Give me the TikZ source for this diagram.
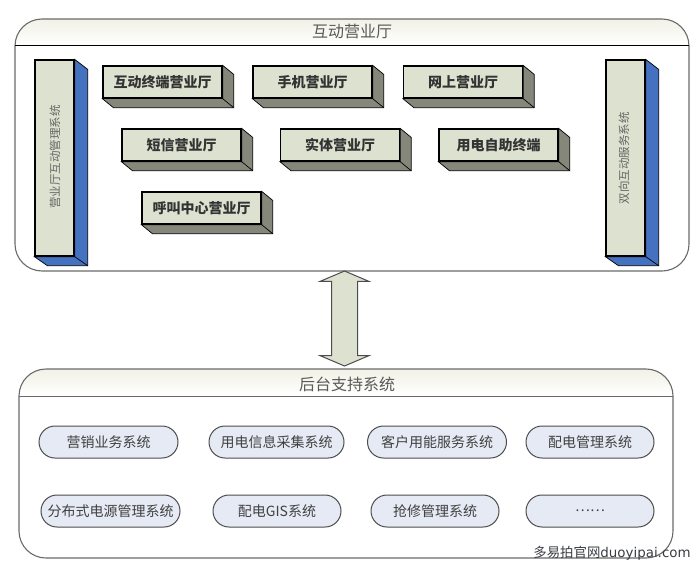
\documentclass[tikz,border=0pt]{standalone}
\usepackage{fontspec}
\setmainfont{Noto Sans CJK SC}
\newfontfamily\markfont{DejaVu Sans}
\usetikzlibrary{shapes.arrows}
\usetikzlibrary{backgrounds}

\definecolor{faceclr}{HTML}{DDE1CF}
\definecolor{sideclr}{HTML}{85877A}
\definecolor{barclr}{HTML}{4472C0}
\definecolor{pillclr}{HTML}{E5EAF4}
\definecolor{headclr}{HTML}{F1F1E6}
\definecolor{rimclr}{HTML}{6A6A6A}

\begin{document}
\begin{tikzpicture}[x=1pt,y=-1pt]

	\tikzset{panel/.style = {draw=rimclr,line width=1.1pt,rounded corners=27pt}}
	\tikzset{head/.style = {top color=headclr,bottom color=white,draw=none}}
	\tikzset{title/.style = {text=black!65,font=\fontsize{16}{16}\selectfont}}
	\tikzset{card/.style = {shape=rectangle,draw=black,line width=1.3pt,fill=faceclr,minimum width=119pt,minimum height=32pt,inner sep=0pt,font=\bfseries\fontsize{14}{14}\selectfont,text=black!80}}
	\tikzset{bar/.style = {shape=rectangle,draw=black,line width=1.3pt,fill=faceclr,minimum width=39pt,minimum height=196pt,inner sep=0pt}}
	\tikzset{bartext/.style = {rotate=90,text=black!60,font=\fontsize{11.5}{12}\selectfont}}
	\tikzset{pill/.style = {shape=rectangle,rounded corners=16pt,draw=black!70,line width=1pt,fill=pillclr,minimum height=32pt,inner sep=0pt,text=black!75,font=\fontsize{14}{14}\selectfont}}

	\useasboundingbox (0,0) rectangle (700,567);

	% upper panel
	\begin{scope}[on background layer]
	\fill[white] (0,0) rectangle (700,567);
	\shade[head] (15,45) [rounded corners=26pt] -- (15,19) -- (689,19) [sharp corners] -- (689,45) -- cycle;
	\draw[panel] (15,145) |- (689,19) |- (15,271) -- cycle;
	\draw[black,line width=0.8pt] (15,45) -- (689,45);
	\end{scope}
	\node[title] (toptitle) at (352,31) {互动营业厅};

	% bars
	\node[bar] (leftbar) at (54.5,158) {};
	\node[bartext] (lefttext) at (55,157) {营业厅互动管理系统};
	\node[bar] (rightbar) at (625.5,158) {};
	\node[bartext] (righttext) at (624,158) {双向互动服务系统};

	% cards
	\node[card] (terminal) at (162.5,82) {互动终端营业厅};
	\node[card] (mobile) at (312.5,82) {手机营业厅};
	\node[card] (online) at (463,82) {网上营业厅};
	\node[card] (sms) at (181.5,145) {短信营业厅};
	\node[card] (entity) at (340,145) {实体营业厅};
	\node[card] (selfserve) at (498.5,145) {用电自助终端};
	\node[card] (callcenter) at (201.5,208) {呼叫中心营业厅};

	% sides of the cards and bars
	\begin{scope}[on background layer]
	\foreach \n in {terminal,mobile,online,sms,entity,selfserve,callcenter}{
		\draw[fill=sideclr,line width=0.7pt] (\n.north east) -- ++(11,9) |- ([shift={(11,9)}]\n.south west) -- (\n.south west) -- (\n.south east) -- cycle;
		\draw[line width=0.7pt] (\n.south east) -- ++(11,9);
	}
	\foreach \n in {leftbar,rightbar}{
		\draw[fill=barclr,line width=0.7pt] (\n.north east) -- ++(13,10) |- ([shift={(13,9)}]\n.south west) -- (\n.south west) -- (\n.south east) -- cycle;
		\draw[line width=0.7pt] (\n.south east) -- ++(13,9);
	}
	\end{scope}

	% link between the panels
	\node[shape=double arrow,rotate=90,draw=black!70,line width=1pt,fill=faceclr,minimum height=95pt,minimum width=48pt,inner sep=0pt,inner ysep=12.5pt,double arrow head extend=11.5pt,double arrow tip angle=134] (link) at (344.5,318.5) {};

	% lower panel
	\shade[head] (19,396) [rounded corners=26pt] -- (19,369) -- (673,369) [sharp corners] -- (673,396) -- cycle;
	\draw[panel] (19,470) |- (673,369) |- (19,558) -- cycle;
	\draw[rimclr,line width=1pt] (19,396) -- (673,396);
	\node[title] (lowtitle) at (347,384) {后台支持系统};

	% systems
	\node[pill,minimum width=139pt] (sales) at (108.5,442) {营销业务系统};
	\node[pill,minimum width=135pt] (collect) at (276.5,442) {用电信息采集系统};
	\node[pill,minimum width=139pt] (energy) at (437,442) {客户用能服务系统};
	\node[pill,minimum width=128pt] (distrib) at (590,442) {配电管理系统};
	\node[pill,minimum width=139pt] (power) at (110.5,511) {分布式电源管理系统};
	\node[pill,minimum width=128pt] (gis) at (277,511) {配电GIS系统};
	\node[pill,minimum width=128pt] (repair) at (435,511) {抢修管理系统};
	\node[pill,minimum width=128pt] (more) at (590,511) {……};

	\node[text=black!85!cyan,font=\fontsize{13.4}{14}\selectfont] (mark) at (612,553) {多易拍官网{\markfont duoyipai.com}};
\end{tikzpicture}
\end{document}
